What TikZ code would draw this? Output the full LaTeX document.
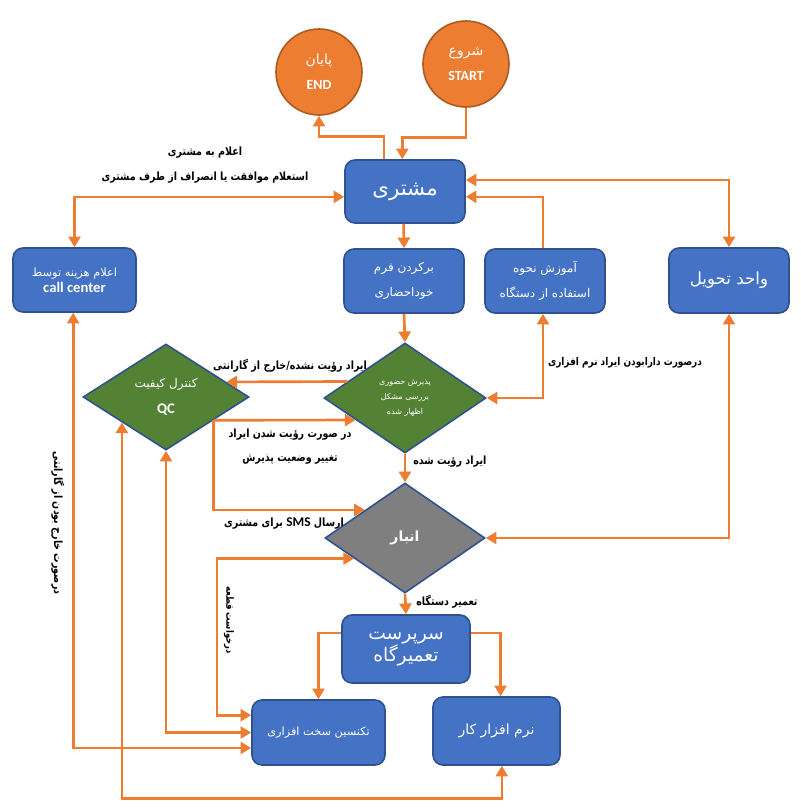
\documentclass[tikz,border=0pt]{standalone}
\usepackage{fontspec}
\usetikzlibrary{shapes.geometric,arrows.meta}
\TeXXeTstate=1
\setmainfont{Carlito}
\newfontfamily\fa[Script=Arabic]{DejaVu Sans}
\newfontfamily\falbl[Script=Arabic,FakeStretch=0.84]{DejaVu Sans}
\newcommand\fatxt[1]{{\fa\beginR #1\endR}}
\newcommand\fal[1]{{\falbl\bfseries\beginR #1\endR}}
\definecolor{arrc}{HTML}{ED7D31}
\definecolor{circb}{HTML}{AE5A21}
\definecolor{boxf}{HTML}{4472C4}
\definecolor{boxb}{HTML}{2F528F}
\definecolor{grn}{HTML}{548235}
\definecolor{gry}{HTML}{7F7F7F}
\begin{document}
\begin{tikzpicture}[x=0.75pt,y=-0.75pt,
  tip/.tip={Triangle[length=8pt,width=9pt]},
  arr/.style={draw=arrc, line width=2pt, -tip},
  arrb/.style={draw=arrc, line width=2pt, tip-tip},
  box/.style={draw=boxb, fill=boxf, rounded corners=7.5pt, line width=1.2pt, text=white, align=center, inner sep=0pt},
  dia/.style={diamond, draw=boxb, line width=1.2pt, inner sep=0pt, text=white, align=center},
  circ/.style={circle, fill=arrc, draw=circb, line width=1.2pt, minimum size=64.5pt, text=white, align=center, inner sep=0pt},
  lbl/.style={font=\fontsize{8.5}{10}\selectfont, text=black, align=center, inner sep=0pt}]
\useasboundingbox (0,0) rectangle (800,810);

% nodes
\node[circ, font=\fontsize{10.5}{20}\selectfont] (endc) at (319,72) {\fatxt{پایان}\\[-1pt]\textbf{END}};
\node[circ, font=\fontsize{10.5}{20}\selectfont] (startc) at (466,64) {\fatxt{شروع}\\[-1pt]\textbf{START}};
\node[box, minimum width=90pt, minimum height=47.25pt, font=\fontsize{16}{18}\selectfont] (cust) at (405,191.5) {\fatxt{مشتری}};
\node[box, minimum width=92.25pt, minimum height=48pt, font=\fontsize{8.5}{12}\selectfont] (callc) at (74.5,280) {\raisebox{0pt}{\fatxt{اعلام هزینه توسط}}\\\textbf{\fontsize{11}{12}\selectfont call center}};
\node[box, minimum width=90pt, minimum height=48pt, font=\fontsize{9}{19}\selectfont] (form) at (404,281) {\fatxt{برکردن فرم}\\\fatxt{خوداحضاری}};
\node[box, minimum width=90pt, minimum height=48pt, font=\fontsize{9}{19}\selectfont] (train) at (545,281) {\fatxt{آموزش نحوه}\\\fatxt{استفاده از دستگاه}};
\node[box, minimum width=90pt, minimum height=48.75pt, font=\fontsize{12.5}{15}\selectfont] (deliv) at (729,280.5) {\fatxt{واحد تحویل}};
\node[dia, fill=grn, minimum width=121.5pt, minimum height=82.5pt, font=\fontsize{6}{11}\selectfont] (d1) at (405,398) {\fatxt{پذیرش حضوری}\\\fatxt{بررسی مشکل}\\\fatxt{اظهار شده}};
\node[dia, fill=grn, minimum width=124.5pt, minimum height=79.5pt, font=\fontsize{9}{20}\selectfont] (qc) at (166,397) {\fatxt{کنترل کیفیت}\\\textbf{\fontsize{11}{20}\selectfont QC}};
\node[dia, fill=gry, minimum width=120pt, minimum height=82.5pt, font=\fontsize{10.5}{12}\selectfont\bfseries] (anbar) at (405,538) {\fatxt{انبار}};
\node[box, minimum width=96pt, minimum height=51pt, font=\fontsize{14}{17}\selectfont] (superv) at (406,649) {\fatxt{سرپرست}\\\fatxt{تعمیرگاه}};
\node[box, minimum width=99.75pt, minimum height=48.75pt, font=\fontsize{8.5}{11}\selectfont] (tech) at (318.5,732.5) {\fatxt{تکنسین سخت افزاری}};
\node[box, minimum width=95.25pt, minimum height=51pt, font=\fontsize{10.5}{14}\selectfont] (soft) at (496.5,731) {\fatxt{نرم افزار کار}};

% labels
\node[lbl] (l1) at (205,153) {\fal{اعلام به مشتری}};
\node[lbl] (l2) at (205,178) {\fal{استعلام موافقت یا انصراف از طرف مشتری}};
\node[lbl] (l3) at (290,366) {\fal{ایراد رؤیت نشده/خارج از گارانتی}};
\node[lbl] (l4) at (290,435) {\fal{در صورت رؤیت شدن ایراد}};
\node[lbl] (l5) at (290,460) {\fal{تغییر وضعیت پذیرش}};
\node[lbl] (l6) at (284,524) {\falbl\bfseries\beginR ارسال \beginL{\fontspec{Carlito}\bfseries\fontsize{10}{10}\selectfont SMS}\endL{} برای مشتری\endR};
\node[lbl, anchor=west] (l7) at (413,462) {\fal{ایراد رؤیت شده}};
\node[lbl, font=\fontsize{8}{10}\selectfont] (l8) at (625,363) {\fal{درصورت دارابودن ایراد نرم افزاری}};
\node[lbl, anchor=west] (l9) at (416,602) {\fal{تعمیر دستگاه}};
\node[lbl, rotate=-90] (l10) at (58,523) {\fal{درصورت خارج بودن از گارانتی}};
\node[lbl, rotate=-90, font=\fontsize{7.5}{9}\selectfont] (l11) at (229,620) {\fal{درخواست قطعه}};

% connectors
\draw[arr] (startc.south) -- ++(0,30) -| ([xshift=-2pt]cust.north);
\draw[arr] ([xshift=-15.75pt]cust.north) -- ++(0,-23) -| (endc.south);
\draw[arrb] (callc.north) |- ([yshift=-4pt]cust.west);
\draw[arr] ([xshift=-1pt]cust.south) -- (form.north);
\draw[arr] ([xshift=-1.5pt]train.north) |- ([yshift=-4pt]cust.east);
\draw[arrb] ([yshift=8.6pt]cust.east) -| (deliv.north);
\draw[arr] (form.south) -- (d1.north);
\draw[arrb] (d1.east) -| ([xshift=-1.5pt]train.south);
\draw[arr] (d1.164) -- (qc.14);
\draw[arr] (qc.334) -- (d1.204);
\draw[arr] (qc.334) |- (anbar.145);
\draw[arr] (d1.south) -- (anbar.north);
\draw[arrb] (deliv.south) |- (anbar.east);
\draw[arrb] (anbar.202) -- ++(-137,0) |- ([yshift=13pt]tech.west);
\draw[arrb] (qc.south) |- (tech.west);
\draw[arrb] ([xshift=-1pt]callc.south) |- ([yshift=-11.6pt]tech.west);
\draw[arrb] ([xshift=4pt]soft.south) -- ++(0,33) -| (qc.210);
\draw[arr] (anbar.south) -- (superv.north);
\draw[arr] ([yshift=12pt]superv.west) -| (tech.north);
\draw[arr] ([yshift=12pt]superv.east) -| ([xshift=3pt]soft.north);
\end{tikzpicture}
\end{document}
